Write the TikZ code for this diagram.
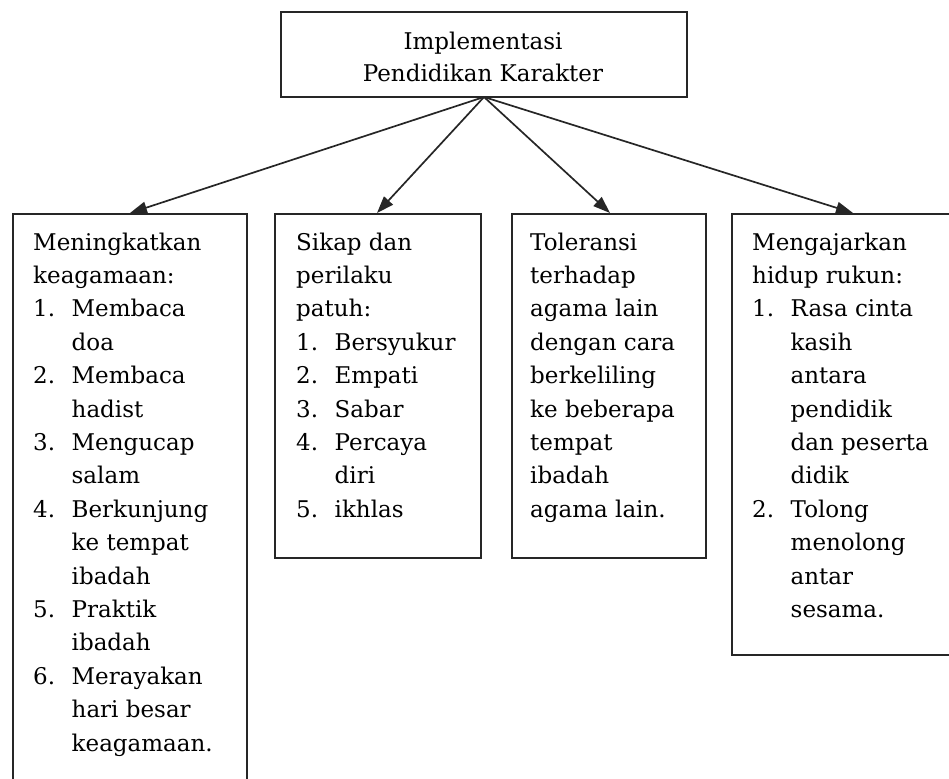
\documentclass[tikz,border=0pt]{standalone}
\usepackage{fontspec}
\setmainfont{DejaVu Serif}
\usetikzlibrary{arrows.meta}
\newcommand{\PL}[1]{\hbox{#1}}
\newcommand{\IL}[2]{\hbox{\makebox[38.5pt][l]{#1}#2}}
\newcommand{\CL}[1]{\hbox{\hspace*{38.5pt}#1}}
\tikzset{
  frame/.style={draw=black!85, line width=1.8pt, inner sep=0pt, outer sep=0pt, anchor=north west},
  txt/.style={inner sep=0pt, anchor=base west, font=\fontsize{23}{33.4}\selectfont},
  ttl/.style={inner sep=0pt, anchor=base, font=\fontsize{23}{32}\selectfont},
  conn/.style={draw=black!85, line width=1.7pt, -{Triangle[length=17pt,width=12pt]}}
}
\begin{document}
\begin{tikzpicture}[x=1pt,y=-1pt]
\useasboundingbox (0,0) rectangle (949,778);
\clip (0,0) rectangle (949,778);
% top box
\node[frame, minimum width=406pt, minimum height=85pt] (top) at (281,12) {};
\node[ttl] (ttl1) at (483,50) {Implementasi};
\node[ttl] (ttl2) at (483,82) {Pendidikan Karakter};
% lower boxes
\node[frame, minimum width=234pt, minimum height=600pt] (b1) at (13,214) {};
\node[frame, minimum width=206pt, minimum height=344pt] (b2) at (275,214) {};
\node[frame, minimum width=194pt, minimum height=344pt] (b3) at (512,214) {};
\node[frame, minimum width=240pt, minimum height=441pt] (b4) at (732,214) {};
% texts
\node[txt] (b1t) at (33,250) {\vtop{%
  \PL{Meningkatkan}\PL{keagamaan:}%
  \IL{1.}{Membaca}\CL{doa}%
  \IL{2.}{Membaca}\CL{hadist}%
  \IL{3.}{Mengucap}\CL{salam}%
  \IL{4.}{Berkunjung}\CL{ke tempat}\CL{ibadah}%
  \IL{5.}{Praktik}\CL{ibadah}%
  \IL{6.}{Merayakan}\CL{hari besar}\CL{keagamaan.}}};
\node[txt] (b2t) at (296,250) {\vtop{%
  \PL{Sikap dan}\PL{perilaku}\PL{patuh:}%
  \IL{1.}{Bersyukur}\IL{2.}{Empati}\IL{3.}{Sabar}%
  \IL{4.}{Percaya}\CL{diri}\IL{5.}{ikhlas}}};
\node[txt] (b3t) at (530,250) {\vtop{%
  \PL{Toleransi}\PL{terhadap}\PL{agama lain}\PL{dengan cara}%
  \PL{berkeliling}\PL{ke beberapa}\PL{tempat}\PL{ibadah}\PL{agama lain.}}};
\node[txt] (b4t) at (752,250) {\vtop{%
  \PL{Mengajarkan}\PL{hidup rukun:}%
  \IL{1.}{Rasa cinta}\CL{kasih}\CL{antara}\CL{pendidik}\CL{dan peserta}\CL{didik}%
  \IL{2.}{Tolong}\CL{menolong}\CL{antar}\CL{sesama.}}};
% arrow tips
\coordinate (a1) at (130,213);
\coordinate (a2) at (377,213);
\coordinate (a3) at (610,213);
\coordinate (a4) at (853,213);
\draw[conn] (top.south) -- (a1);
\draw[conn] (top.south) -- (a2);
\draw[conn] (top.south) -- (a3);
\draw[conn] (top.south) -- (a4);
\end{tikzpicture}
\end{document}
